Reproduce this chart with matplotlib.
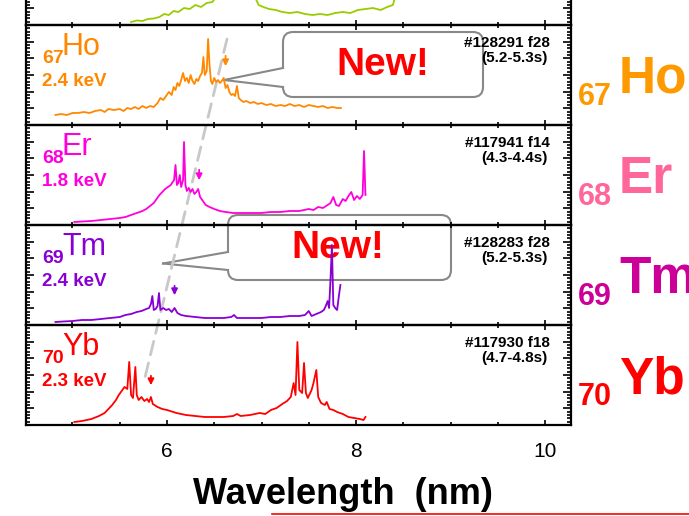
import matplotlib
matplotlib.use("Agg")
import numpy as np
import matplotlib.pyplot as plt
from matplotlib.patches import FancyBboxPatch, Polygon, ConnectionPatch
from matplotlib.lines import Line2D
from matplotlib.ticker import MultipleLocator, FixedLocator

plt.rcParams['font.family'] = ['Liberation Sans', 'DejaVu Sans']

# ---- spectra (wavelength in nm, intensity normalised to panel height) ----
green_wl = [5.62, 5.68, 5.74, 5.80, 5.86, 5.92, 5.97, 6.02, 6.07, 6.12, 6.18, 6.24, 6.30, 6.36,
            6.42, 6.48, 6.55, 6.65, 6.75, 6.85, 6.92, 6.97, 7.02, 7.08, 7.15, 7.22, 7.30, 7.38,
            7.46, 7.54, 7.62, 7.70, 7.78, 7.86, 7.94, 8.02, 8.10, 8.18, 8.26, 8.33, 8.39, 8.42, 8.45]
green_int = [0.03, 0.045, 0.04, 0.06, 0.065, 0.08, 0.11, 0.10, 0.14, 0.13, 0.17, 0.16, 0.20, 0.18,
             0.22, 0.23, 0.32, 0.45, 0.50, 0.40, 0.30, 0.20, 0.18, 0.16, 0.15, 0.13, 0.12, 0.13,
             0.11, 0.10, 0.11, 0.10, 0.12, 0.13, 0.12, 0.15, 0.16, 0.17, 0.15, 0.18, 0.20, 0.30, 0.45]

ho_wl = [4.82, 4.88, 4.94, 5.00, 5.06, 5.12, 5.18, 5.24, 5.30, 5.34, 5.38, 5.44, 5.50, 5.54, 5.58,
         5.62, 5.66, 5.70, 5.74, 5.78, 5.82, 5.86, 5.90, 5.93, 5.96, 5.99, 6.02, 6.05, 6.07, 6.09,
         6.11, 6.13, 6.15, 6.17, 6.19, 6.21, 6.23, 6.25, 6.27, 6.29, 6.31, 6.33, 6.35, 6.37, 6.385,
         6.40, 6.42, 6.435, 6.45, 6.465, 6.48, 6.50, 6.52, 6.54, 6.56, 6.58, 6.60, 6.62, 6.64, 6.66,
         6.68, 6.70, 6.72, 6.74, 6.76, 6.78, 6.81, 6.84, 6.88, 6.92, 6.96, 7.00, 7.05, 7.10, 7.15,
         7.20, 7.25, 7.30, 7.35, 7.40, 7.45, 7.50, 7.55, 7.60, 7.65, 7.70, 7.75, 7.80, 7.84]
ho_int = [0.10, 0.11, 0.10, 0.12, 0.12, 0.13, 0.12, 0.14, 0.15, 0.13, 0.16, 0.15, 0.16, 0.14, 0.17,
          0.16, 0.18, 0.16, 0.19, 0.17, 0.19, 0.18, 0.22, 0.27, 0.25, 0.29, 0.33, 0.30, 0.38, 0.35,
          0.42, 0.39, 0.45, 0.52, 0.44, 0.47, 0.42, 0.50, 0.44, 0.41, 0.46, 0.44, 0.49, 0.52, 0.68,
          0.50, 0.54, 0.86, 0.60, 0.44, 0.41, 0.47, 0.43, 0.45, 0.42, 0.44, 0.47, 0.37, 0.40, 0.33,
          0.30, 0.31, 0.29, 0.39, 0.27, 0.25, 0.23, 0.24, 0.22, 0.23, 0.21, 0.22, 0.20, 0.21, 0.19,
          0.20, 0.19, 0.21, 0.19, 0.20, 0.18, 0.20, 0.19, 0.18, 0.19, 0.17, 0.18, 0.17, 0.17]

er_wl = [5.02, 5.10, 5.20, 5.30, 5.40, 5.50, 5.56, 5.62, 5.68, 5.74, 5.78, 5.82, 5.86, 5.89, 5.92,
         5.95, 5.98, 6.01, 6.04, 6.06, 6.075, 6.09, 6.105, 6.12, 6.135, 6.15, 6.17, 6.18, 6.195,
         6.21, 6.23, 6.25, 6.27, 6.29, 6.31, 6.33, 6.35, 6.38, 6.41, 6.45, 6.50, 6.56, 6.62, 6.70,
         6.80, 6.90, 7.00, 7.10, 7.20, 7.30, 7.40, 7.50, 7.55, 7.60, 7.65, 7.70, 7.73, 7.76, 7.79,
         7.82, 7.86, 7.89, 7.92, 7.95, 7.98, 8.01, 8.04, 8.07, 8.085, 8.10]
er_int = [0.03, 0.035, 0.04, 0.05, 0.06, 0.07, 0.08, 0.10, 0.12, 0.14, 0.16, 0.19, 0.22, 0.26, 0.30,
          0.33, 0.36, 0.38, 0.40, 0.43, 0.45, 0.60, 0.40, 0.42, 0.50, 0.38, 0.45, 0.83, 0.40,
          0.34, 0.37, 0.33, 0.36, 0.31, 0.33, 0.36, 0.28, 0.24, 0.20, 0.18, 0.16, 0.14, 0.13, 0.12,
          0.12, 0.12, 0.12, 0.13, 0.13, 0.14, 0.14, 0.16, 0.15, 0.18, 0.17, 0.20, 0.22, 0.28, 0.20,
          0.19, 0.26, 0.24, 0.29, 0.33, 0.25, 0.29, 0.26, 0.30, 0.74, 0.30]

tm_wl = [4.82, 4.90, 5.00, 5.10, 5.20, 5.30, 5.40, 5.50, 5.56, 5.62, 5.68, 5.73, 5.78, 5.81, 5.83,
         5.845, 5.86, 5.88, 5.90, 5.915, 5.93, 5.96, 5.99, 6.02, 6.05, 6.08, 6.11, 6.15, 6.20, 6.30,
         6.40, 6.50, 6.60, 6.68, 6.71, 6.74, 6.85, 7.00, 7.10, 7.20, 7.30, 7.40, 7.46, 7.50, 7.53,
         7.58, 7.63, 7.66, 7.68, 7.70, 7.715, 7.73, 7.745, 7.76, 7.78, 7.80, 7.82, 7.835]
tm_int = [0.03, 0.035, 0.04, 0.05, 0.05, 0.06, 0.07, 0.08, 0.10, 0.11, 0.13, 0.14, 0.16, 0.17, 0.21,
          0.29, 0.15, 0.16, 0.19, 0.32, 0.15, 0.17, 0.15, 0.16, 0.13, 0.17, 0.12, 0.10, 0.09, 0.08,
          0.07, 0.07, 0.07, 0.08, 0.10, 0.07, 0.07, 0.07, 0.08, 0.08, 0.09, 0.09, 0.10, 0.14, 0.09,
          0.11, 0.13, 0.15, 0.19, 0.24, 0.17, 0.45, 0.80, 0.20, 0.17, 0.15, 0.30, 0.40]

yb_wl = [5.02, 5.10, 5.20, 5.28, 5.34, 5.38, 5.42, 5.46, 5.49, 5.52, 5.55, 5.58, 5.60, 5.62, 5.64,
         5.665, 5.68, 5.70, 5.73, 5.76, 5.79, 5.81, 5.83, 5.85, 5.90, 5.95, 6.00, 6.10, 6.20, 6.30,
         6.40, 6.50, 6.60, 6.70, 6.74, 6.78, 6.88, 6.98, 7.04, 7.10, 7.16, 7.22, 7.27, 7.31, 7.34,
         7.36, 7.38, 7.40, 7.43, 7.45, 7.47, 7.49, 7.53, 7.55, 7.58, 7.60, 7.63, 7.67, 7.69, 7.72,
         7.76, 7.80, 7.86, 7.92, 7.98, 8.04, 8.08, 8.10]
yb_int = [0.03, 0.04, 0.06, 0.09, 0.12, 0.16, 0.20, 0.25, 0.30, 0.34, 0.38, 0.36, 0.63, 0.30, 0.27,
          0.58, 0.30, 0.25, 0.28, 0.24, 0.26, 0.23, 0.28, 0.21, 0.18, 0.16, 0.15, 0.12, 0.10, 0.09,
          0.08, 0.08, 0.08, 0.09, 0.11, 0.09, 0.10, 0.12, 0.11, 0.15, 0.17, 0.21, 0.24, 0.28, 0.42,
          0.30, 0.83, 0.35, 0.32, 0.62, 0.32, 0.27, 0.35, 0.42, 0.55, 0.28, 0.22, 0.20, 0.23, 0.16,
          0.15, 0.13, 0.11, 0.08, 0.07, 0.06, 0.05, 0.08]

# ---- labels ----
elements = ['Ho', 'Er', 'Tm', 'Yb']
atomic_nums = ['67', '68', '69', '70']
energies = ['2.4 keV', '1.8 keV', '2.4 keV', '2.3 keV']
shots = ['#128291 f28', '#117941 f14', '#128283 f28', '#117930 f18']
times = ['(5.2-5.3s)', '(4.3-4.4s)', '(5.2-5.3s)', '(4.7-4.8s)']
line_colors = ['#ff8800', '#ff00dd', '#8800d4', '#ff0000']
side_colors = ['#ff9900', '#ff6699', '#cc0099', '#ff0000']

# marked lines (down arrows)
arrow_wl = [6.62, 6.34, 6.08, 5.83]
arrow_top = [0.72, 0.58, 0.42, 0.52]
arrow_tip = [0.56, 0.42, 0.27, 0.37]

W, H = 689, 516
fig = plt.figure(figsize=(W / 100, H / 100), dpi=100)
T = fig.dpi_scale_trans


def ix(px):
    return px / 100


def iy(py):
    return (H - py) / 100


left, right = 26, 571
xlo, xhi = 4.508, 10.275


def make_panel(top, bottom_labels=False):
    ax = fig.add_axes([left / W, (H - top - 100) / H, (right - left) / W, 100 / H])
    ax.set_facecolor('none')
    ax.set_xlim(xlo, xhi)
    ax.set_ylim(0, 1)
    ax.xaxis.set_major_locator(MultipleLocator(2))
    ax.xaxis.set_minor_locator(MultipleLocator(0.5))
    ax.yaxis.set_major_locator(FixedLocator(np.linspace(0, 1, 7)))
    ax.yaxis.set_minor_locator(FixedLocator(np.linspace(0, 1, 31)))
    ax.tick_params(which='both', direction='in', top=True, right=True, labelleft=False,
                   labelbottom=bottom_labels, width=1.2)
    ax.tick_params(axis='x', which='major', length=3.5, labelsize=15, pad=12)
    ax.tick_params(axis='x', which='minor', length=2)
    ax.tick_params(axis='y', which='major', length=6)
    ax.tick_params(axis='y', which='minor', length=3)
    for s in ax.spines.values():
        s.set_linewidth(1.6)
    return ax


ax_g = make_panel(-75)
ax_g.plot(green_wl, green_int, color='#99cc00', lw=1.3)

tops = [25, 125, 225, 325]
series = [(ho_wl, ho_int), (er_wl, er_int), (tm_wl, tm_int), (yb_wl, yb_int)]
axes = []
for i, top in enumerate(tops):
    ax = make_panel(top, bottom_labels=(i == 3))
    wl, inten = series[i]
    c = line_colors[i]
    ax.plot(wl, inten, color=c, lw=1.3)
    ax.annotate('', xy=(arrow_wl[i], arrow_tip[i]), xytext=(arrow_wl[i], arrow_top[i]),
                arrowprops=dict(arrowstyle='-|>', color=c, lw=1.3, mutation_scale=9))
    # panel label
    fig.text(ix(42), iy(top + 38), atomic_nums[i], transform=T, color=c, fontsize=14,
             fontweight='bold', va='baseline')
    fig.text(ix(62), iy(top + 30), elements[i], transform=T, color=c, fontsize=22,
             va='baseline')
    fig.text(ix(42), iy(top + 61), energies[i], transform=T, color=c, fontsize=13.5,
             fontweight='bold', va='baseline')
    fig.text(ix(550), iy(top + 22), shots[i], transform=T, color='black', fontsize=11,
             fontweight='bold', ha='right', va='baseline')
    fig.text(ix(548), iy(top + 37), times[i], transform=T, color='black', fontsize=11,
             fontweight='bold', ha='right', va='baseline')
    # side labels
    fig.text(ix(578), iy(top + 80), atomic_nums[i], transform=T, color=side_colors[i],
             fontsize=22, fontweight='bold', va='baseline')
    fig.text(ix(619), iy(top + 68), elements[i], transform=T, color=side_colors[i],
             fontsize=37, fontweight='bold', va='baseline')
    axes.append(ax)

# guide line across panels
con = ConnectionPatch(xyA=(6.635, 0.86), coordsA=axes[0].transData,
                      xyB=(5.75, 0.41), coordsB=axes[3].transData,
                      color='#c8c8c8', lw=2, linestyle=(0, (5, 3)), zorder=-1.5)
fig.add_artist(con)


def callout(x0, y0, x1, y1, tip, by0, by1, tx, ty):
    box = FancyBboxPatch((ix(x0), iy(y1)), ix(x1 - x0), (y1 - y0) / 100,
                         boxstyle='round,pad=0,rounding_size=0.1', transform=T,
                         fc='white', ec='#888888', lw=1.5, zorder=-2)
    fig.add_artist(box)
    tail = Polygon([(ix(tip[0]), iy(tip[1])), (ix(x0 + 3), iy(by0)), (ix(x0 + 3), iy(by1))],
                   closed=True, transform=T, fc='white', ec='none', zorder=-1.9)
    fig.add_artist(tail)
    for by in (by0, by1):
        fig.add_artist(Line2D([ix(tip[0]), ix(x0)], [iy(tip[1]), iy(by)], transform=T,
                              color='#888888', lw=1.5, zorder=-1.8))
    fig.text(ix(tx), iy(ty), 'New!', transform=T, color='red', fontsize=28,
             fontweight='bold', ha='center', va='center', zorder=-1.7)


callout(283, 32, 483, 97, (224, 80), 68, 87, 383, 65)
callout(228, 215, 451, 280, (163, 263.5), 252, 270, 338, 248)

fig.text(ix(343), iy(494), 'Wavelength  (nm)', transform=T, fontsize=26,
         fontweight='bold', ha='center', va='center')
fig.add_artist(Line2D([ix(272), ix(689)], [iy(514), iy(514)], transform=T,
                      color='red', lw=1.2))

fig.savefig('out.png', dpi=100)
